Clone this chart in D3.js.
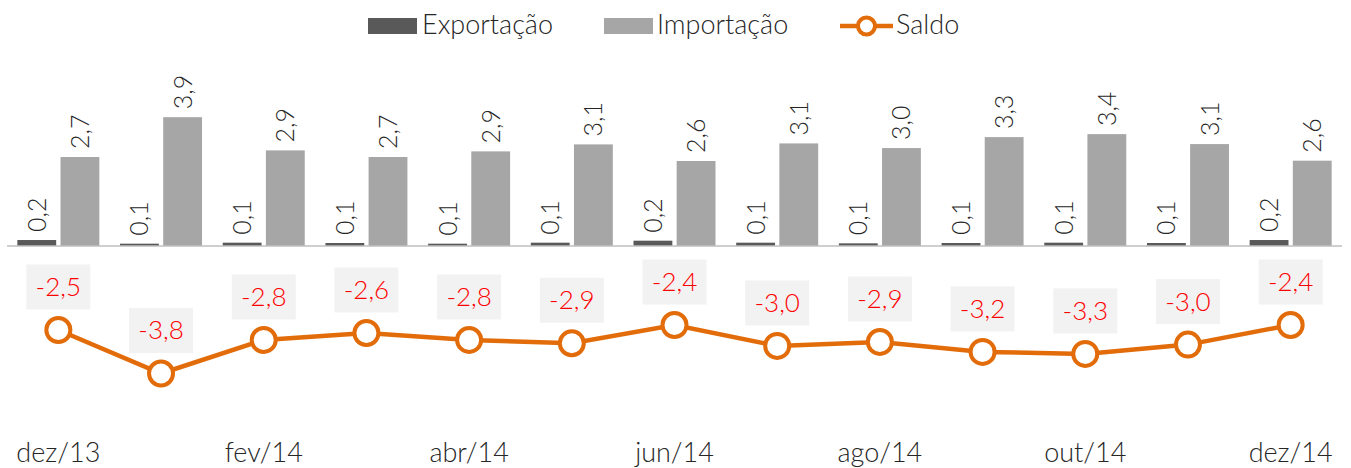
<!DOCTYPE html>
<html>
<head>
<meta charset="utf-8">
<script src="https://cdn.jsdelivr.net/npm/d3@7"></script>
<style>
  body { margin: 0; background: #fff; }
  svg { display: block; font-family: Lato, "Open Sans", sans-serif; font-weight: 300; }
</style>
</head>
<body>
<svg id="chart" width="1351" height="468"></svg>
<script>
const months = ['dez/13', 'jan/14', 'fev/14', 'mar/14', 'abr/14', 'mai/14', 'jun/14',
  'jul/14', 'ago/14', 'set/14', 'out/14', 'nov/14', 'dez/14'];
const exportacao = [0.18, 0.07, 0.10, 0.09, 0.07, 0.10, 0.16, 0.10, 0.08, 0.09, 0.10, 0.09, 0.18];
const importacao = [2.68, 3.88, 2.88, 2.68, 2.85, 3.06, 2.56, 3.09, 2.95, 3.28, 3.37, 3.07, 2.57];
const saldo = [-2.53, -3.84, -2.83, -2.62, -2.83, -2.93, -2.38, -3.01, -2.89, -3.19, -3.25, -2.97, -2.38];
const labelledMonths = ['dez/13', 'fev/14', 'abr/14', 'jun/14', 'ago/14', 'out/14', 'dez/14'];

const fmt = v => d3.format('.1f')(v).replace('.', ',').replace('−', '-');

const svg = d3.select('#chart');

const x = d3.scaleBand().domain(months).range([7, 1342]);
const inner = d3.scaleBand().domain(['exp', 'imp']).range([-41, 41]).paddingInner(0.1);
// one value axis shared by bars and line, zero at the category axis
const y = d3.scaleLinear().domain([0, 1]).range([246, 212.8]);

const cx = m => x(m) + x.bandwidth() / 2;

// bars
const barData = months.map((m, i) => ({ m, exp: exportacao[i], imp: importacao[i] }));
const colors = { exp: '#595959', imp: '#a6a6a6' };

['exp', 'imp'].forEach(k => {
  svg.append('g').selectAll('rect')
    .data(barData)
    .join('rect')
      .attr('x', d => cx(d.m) + inner(k))
      .attr('width', inner.bandwidth())
      .attr('y', d => y(d[k]))
      .attr('height', d => y(0) - y(d[k]))
      .attr('fill', colors[k]);

  svg.append('g').selectAll('text')
    .data(barData)
    .join('text')
      .attr('transform', d => `translate(${cx(d.m) + inner(k) + inner.bandwidth() / 2 + 9},${y(d[k]) - 8}) rotate(-90)`)
      .attr('font-size', 25)
      .attr('fill', '#262626')
      .text(d => fmt(d[k]));
});

// category axis line
svg.append('line')
  .attr('x1', 7).attr('x2', 1342)
  .attr('y1', y(0)).attr('y2', y(0))
  .attr('stroke', '#bfbfbf').attr('stroke-width', 1.5);

// category labels
svg.append('g').selectAll('text')
  .data(labelledMonths)
  .join('text')
    .attr('x', d => cx(d))
    .attr('y', 462)
    .attr('text-anchor', 'middle')
    .attr('font-size', 27)
    .attr('fill', '#262626')
    .text(d => d);

// saldo line
const orange = '#e36c0a';
const line = d3.line().x((d, i) => cx(months[i])).y(d => y(d));
svg.append('path')
  .datum(saldo)
  .attr('d', line)
  .attr('fill', 'none')
  .attr('stroke', orange)
  .attr('stroke-width', 4.5);

svg.append('g').selectAll('circle')
  .data(saldo)
  .join('circle')
    .attr('cx', (d, i) => cx(months[i]))
    .attr('cy', d => y(d))
    .attr('r', 12)
    .attr('fill', '#fff')
    .attr('stroke', orange)
    .attr('stroke-width', 4);

// saldo labels with boxes
const lab = svg.append('g').selectAll('g')
  .data(saldo)
  .join('g')
    .attr('transform', (d, i) => `translate(${cx(months[i])},${y(d) - 43})`);
lab.append('rect')
  .attr('x', -32).attr('y', -22.5)
  .attr('width', 64).attr('height', 45)
  .attr('fill', '#f2f2f2');
lab.append('text')
  .attr('text-anchor', 'middle')
  .attr('y', 9)
  .attr('font-size', 26)
  .attr('fill', '#ff0000')
  .text(d => fmt(d));

// legend
const legend = svg.append('g').attr('font-size', 27).attr('fill', '#262626');
legend.append('rect').attr('x', 368).attr('y', 18).attr('width', 49).attr('height', 16).attr('fill', colors.exp);
legend.append('text').attr('x', 422).attr('y', 34).text('Exportação');
legend.append('rect').attr('x', 604).attr('y', 18).attr('width', 49).attr('height', 16).attr('fill', colors.imp);
legend.append('text').attr('x', 657).attr('y', 34).text('Importação');
legend.append('line').attr('x1', 840).attr('x2', 893).attr('y1', 26).attr('y2', 26)
  .attr('stroke', orange).attr('stroke-width', 4.5);
legend.append('circle').attr('cx', 866.5).attr('cy', 26).attr('r', 8.5)
  .attr('fill', '#fff').attr('stroke', orange).attr('stroke-width', 4);
legend.append('text').attr('x', 896).attr('y', 34).text('Saldo');
</script>
</body>
</html>
